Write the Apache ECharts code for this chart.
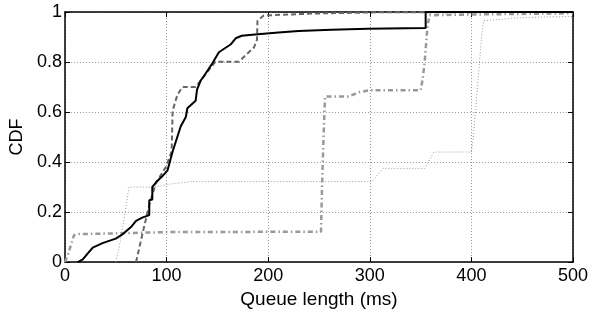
<!DOCTYPE html>
<html>
<head>
<meta charset="utf-8">
<script src="https://cdn.jsdelivr.net/npm/echarts@6/dist/echarts.min.js"></script>
<style>
  html, body { margin: 0; padding: 0; background: #fff; }
  #chart { width: 596px; height: 314px; }
</style>
</head>
<body>
<div id="chart"></div>
<script>
// queue length (ms) vs CDF
const xTicks = [0, 100, 200, 300, 400, 500];
const yTicks = [0, 0.2, 0.4, 0.6, 0.8, 1];

const solidX = [12.7, 17.6, 22.5, 27.4, 37, 50, 57, 65, 70, 76, 83, 83, 86, 86, 90, 95, 101, 106, 114, 119, 120.5, 128.6, 130, 133.5, 137, 145, 151.5, 163, 168, 174, 187, 210, 230, 262, 298, 355, 355, 500];
const solidY = [0, 0.011, 0.035, 0.058, 0.076, 0.094, 0.112, 0.14, 0.165, 0.178, 0.188, 0.247, 0.25, 0.301, 0.32, 0.34, 0.367, 0.442, 0.543, 0.58, 0.615, 0.645, 0.69, 0.725, 0.745, 0.794, 0.839, 0.87, 0.895, 0.905, 0.91, 0.918, 0.924, 0.929, 0.933, 0.936, 1, 1];

const dashX = [70, 76.4, 83, 89.4, 99.2, 105, 106, 110.7, 115.6, 128.6, 148, 171, 186, 189, 189.5, 195.6, 246, 311, 500];
const dashY = [0, 0.115, 0.228, 0.316, 0.379, 0.442, 0.606, 0.669, 0.70, 0.70, 0.801, 0.801, 0.858, 0.889, 0.965, 0.986, 0.994, 0.999, 1];

const dashDotX = [0, 3, 6, 9, 12, 50, 100, 200, 252, 253, 254.5, 256, 279, 290, 300, 350, 352, 354, 355.5, 357, 359, 400, 500];
const dashDotY = [0, 0.03, 0.07, 0.108, 0.112, 0.115, 0.12, 0.121, 0.121, 0.3, 0.5, 0.662, 0.662, 0.68, 0.687, 0.687, 0.73, 0.8, 0.876, 0.95, 0.987, 0.99, 0.995];

const dotX = [50, 53, 56, 60, 63, 65, 86, 95, 100, 110, 125, 302, 306, 313, 354, 359, 363, 400, 402, 405, 408, 410, 412, 440, 470, 500];
const dotY = [0, 0.05, 0.12, 0.22, 0.3, 0.3, 0.3, 0.305, 0.31, 0.315, 0.322, 0.322, 0.34, 0.374, 0.374, 0.41, 0.44, 0.44, 0.5, 0.65, 0.8, 0.9, 0.965, 0.975, 0.98, 0.982];

const zip = (xs, ys) => xs.map((x, i) => [x, ys[i]]);

const chart = echarts.init(document.getElementById('chart'), null, {renderer: 'canvas'});

const font = 'Liberation Sans';
const frameLine = {show: true, onZero: false, lineStyle: {color: '#000', width: 1.5}};
const gridLine = {show: true, lineStyle: {color: '#999', width: 1, type: [1, 2]}};
const tick = {show: true, inside: true, length: 5, lineStyle: {color: '#000', width: 1}};

const option = {
  animation: false,
  backgroundColor: '#fff',
  grid: {left: 62, right: 23, top: 12, bottom: 37},
  xAxis: [
    {
      type: 'value',
      min: xTicks[0],
      max: xTicks[xTicks.length - 1],
      interval: 100,
      name: 'Queue length (ms)',
      nameLocation: 'middle',
      nameGap: 15,
      nameTextStyle: {fontFamily: font, fontSize: 19, color: '#000'},
      axisLine: frameLine,
      axisTick: tick,
      splitLine: gridLine,
      axisLabel: {fontFamily: font, fontSize: 18, color: '#000', margin: 5}
    },
    {
      type: 'value',
      position: 'top',
      min: 0, max: 500, interval: 100,
      axisLine: frameLine,
      axisTick: tick,
      splitLine: {show: false},
      axisLabel: {show: false}
    }
  ],
  yAxis: [
    {
      type: 'value',
      min: yTicks[0],
      max: yTicks[yTicks.length - 1],
      interval: 0.2,
      name: 'CDF',
      nameLocation: 'middle',
      nameGap: 38,
      nameTextStyle: {fontFamily: font, fontSize: 18, color: '#000'},
      axisLine: frameLine,
      axisTick: tick,
      splitLine: gridLine,
      axisLabel: {fontFamily: font, fontSize: 18, color: '#000', margin: 3}
    },
    {
      type: 'value',
      position: 'right',
      min: 0, max: 1, interval: 0.2,
      axisLine: frameLine,
      axisTick: tick,
      splitLine: {show: false},
      axisLabel: {show: false}
    }
  ],
  series: [
    {
      name: 'dotted',
      type: 'line',
      data: zip(dotX, dotY),
      symbol: 'none',
      lineStyle: {color: '#999', width: 1, type: [1, 2]}
    },
    {
      name: 'dashdot',
      type: 'line',
      data: zip(dashDotX, dashDotY),
      symbol: 'none',
      lineStyle: {color: '#999', width: 2.5, type: [5, 3, 1.5, 3]}
    },
    {
      name: 'dashed',
      type: 'line',
      data: zip(dashX, dashY),
      symbol: 'none',
      lineStyle: {color: '#666', width: 2, type: [5, 3]}
    },
    {
      name: 'solid',
      type: 'line',
      data: zip(solidX, solidY),
      symbol: 'none',
      lineStyle: {color: '#000', width: 2}
    }
  ]
};

chart.setOption(option);
</script>
</body>
</html>
